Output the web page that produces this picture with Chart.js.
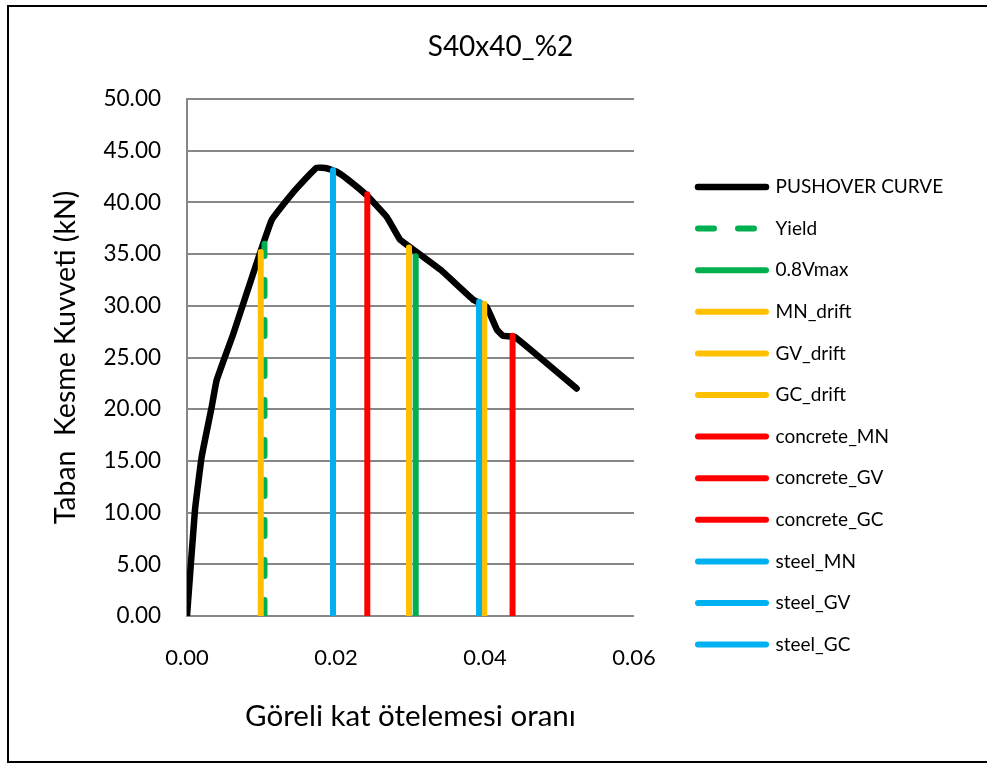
<!DOCTYPE html>
<html>
<head>
<meta charset="utf-8">
<script src="https://cdn.jsdelivr.net/npm/chart.js@4.4.1/dist/chart.umd.min.js"></script>
<style>
  html, body { margin: 0; padding: 0; background: #fff; overflow: hidden; }
  #wrap { position: relative; width: 987px; height: 763px; }
  #frame { position: absolute; left: 7px; top: 5px; width: 1000px; height: 754px; border: 2px solid #000; box-sizing: content-box; }
  canvas { position: absolute; left: 0; top: 0; }
</style>
</head>
<body>
<div id="wrap">
  <div id="frame"></div>
  <canvas id="c" width="987" height="763"></canvas>
</div>
<script>
// ---- data ----
const chartTitle = 'S40x40_%2';
const xAxisTitle = 'Göreli kat ötelemesi oranı';
const yAxisTitle = 'Taban  Kesme Kuvveti (kN)';

const xTickLabels = ['0.00', '0.02', '0.04', '0.06'];
const yTickLabels = ['0.00', '5.00', '10.00', '15.00', '20.00', '25.00', '30.00', '35.00', '40.00', '45.00', '50.00'];

// pushover curve
const pushoverDrift = [0.0000, 0.00107, 0.00197, 0.00331, 0.00398, 0.00622, 0.0080, 0.0098, 0.01137, 0.01338, 0.0149, 0.0174, 0.01875, 0.0200, 0.02143, 0.0241, 0.0268, 0.0286, 0.0295, 0.0340, 0.0384, 0.0402, 0.0416, 0.0424, 0.0440, 0.0523];
const pushoverShear = [0.0, 10.25, 15.4, 20.2, 22.8, 27.3, 31.2, 35.1, 38.3, 40.2, 41.5, 43.35, 43.3, 43.0, 42.3, 40.7, 38.6, 36.4, 35.9, 33.5, 30.6, 29.9, 27.7, 27.1, 27.0, 22.0];

// performance limits (vertical markers); null = not shown on the chart
const limitNames  = ['Yield', '0.8Vmax', 'MN_drift', 'GV_drift', 'GC_drift', 'concrete_MN', 'concrete_GV', 'concrete_GC', 'steel_MN', 'steel_GV', 'steel_GC'];
const limitDrift  = [0.0104, 0.0307, 0.0099, 0.0298, 0.0399, 0.0242, 0.0437, null, 0.0196, 0.0392, null];
const limitShear  = [36.0, 34.8, 35.2, 35.65, 30.2, 40.8, 27.1, null, 43.1, 30.4, null];
const limitColors = ['#00B050', '#00B050', '#FFC000', '#FFC000', '#FFC000', '#FF0000', '#FF0000', '#FF0000', '#00B0F0', '#00B0F0', '#00B0F0'];
const limitDashed = [true, false, false, false, false, false, false, false, false, false, false];

// ---- build datasets (Excel draws later series on top; Chart.js draws index 0 on top) ----
const pushoverDs = {
  label: 'PUSHOVER CURVE',
  data: pushoverDrift.map((x, i) => ({ x: x, y: pushoverShear[i] })),
  borderColor: '#000000',
  backgroundColor: '#000000',
  borderWidth: 6.5,
  borderCapStyle: 'round',
  borderJoinStyle: 'round',
  showLine: true,
  pointRadius: 0,
  tension: 0.1
};
const limitDs = limitNames.map((name, i) => ({
  label: name,
  data: limitDrift[i] === null ? [] : [{ x: limitDrift[i], y: 0 }, { x: limitDrift[i], y: limitShear[i] }],
  borderColor: limitColors[i],
  backgroundColor: limitColors[i],
  borderWidth: 6,
  borderCapStyle: 'round',
  borderDash: limitDashed[i] ? [16, 24] : [],
  showLine: true,
  pointRadius: 0
}));
const datasets = [pushoverDs].concat(limitDs).reverse();

const FONT = 'Lato, "Open Sans", sans-serif';

const layoutFix = {
  id: 'layoutFix',
  beforeLayout(chart) {
    const lg = chart.legend;
    if (lg && !lg._patched) {
      const f = lg.fit;
      lg.fit = function () { f.call(this); this.width = 353; };
      lg._patched = true;
    }
  },
  afterLayout(chart) {
    const lg = chart.legend;
    const pad = 23.6;
    const w = lg.width;
    lg.left = 699 - pad; lg.right = lg.left + w;
    lg.top = 188 - pad - 9.5; lg.bottom = 2000; lg.height = lg.bottom - lg.top;
    const t = chart.titleBlock;
    if (t) { t.left += 7; t.right += 7; }
  }
};

new Chart(document.getElementById('c'), {
  type: 'scatter',
  data: { datasets: datasets },
  plugins: [layoutFix],
  options: {
    responsive: false,
    animation: false,
    events: [],
    layout: { padding: 0 },
    plugins: {
      title: {
        display: true,
        text: chartTitle,
        color: '#000',
        font: { family: FONT, size: 28, weight: 'normal' },
        padding: { top: 30.2, bottom: 35.2 }
      },
      legend: {
        display: true,
        position: 'right',
        align: 'start',
        reverse: true,
        labels: {
          usePointStyle: true,
          pointStyle: 'line',
          pointStyleWidth: 68,
          boxHeight: 19,
          padding: 22.6,
          color: '#000',
          font: { family: FONT, size: 19 },
          generateLabels(chart) {
            const items = Chart.defaults.plugins.legend.labels.generateLabels(chart);
            items.forEach((it) => {
              const ds = chart.data.datasets[it.datasetIndex];
              it.lineDash = ds.borderDash || [];
              it.lineCap = 'round';
              it.lineWidth = ds.borderWidth;
              it.strokeStyle = ds.borderColor;
            });
            return items;
          }
        }
      },
      tooltip: { enabled: false }
    },
    scales: {
      x: {
        type: 'linear',
        min: 0, max: 0.06,
        afterFit(s) { s.height = 147; },
        grid: { display: false, drawTicks: false },
        border: { display: false },
        ticks: {
          stepSize: 0.02,
          padding: 29,
          color: '#000',
          font: { family: FONT, size: 22 },
          callback: (v) => xTickLabels[Math.round(v / 0.02)]
        },
        title: {
          display: true,
          text: xAxisTitle,
          color: '#000',
          font: { family: FONT, size: 29.5 },
          padding: { top: 0, bottom: 28.5 }
        }
      },
      y: {
        type: 'linear',
        min: 0, max: 50,
        afterFit(s) { s.width = 187; },
        grid: { color: '#878787', lineWidth: 2, drawTicks: false },
        border: { display: true, color: '#878787', width: 2 },
        ticks: {
          stepSize: 5,
          padding: 26,
          color: '#000',
          font: { family: FONT, size: 22.5 },
          callback: (v) => yTickLabels[Math.round(v / 5)]
        },
        title: {
          display: true,
          text: yAxisTitle,
          color: '#000',
          font: { family: FONT, size: 28.5 },
          padding: { top: 49, bottom: 0 }
        }
      }
    }
  }
});
</script>
</body>
</html>
